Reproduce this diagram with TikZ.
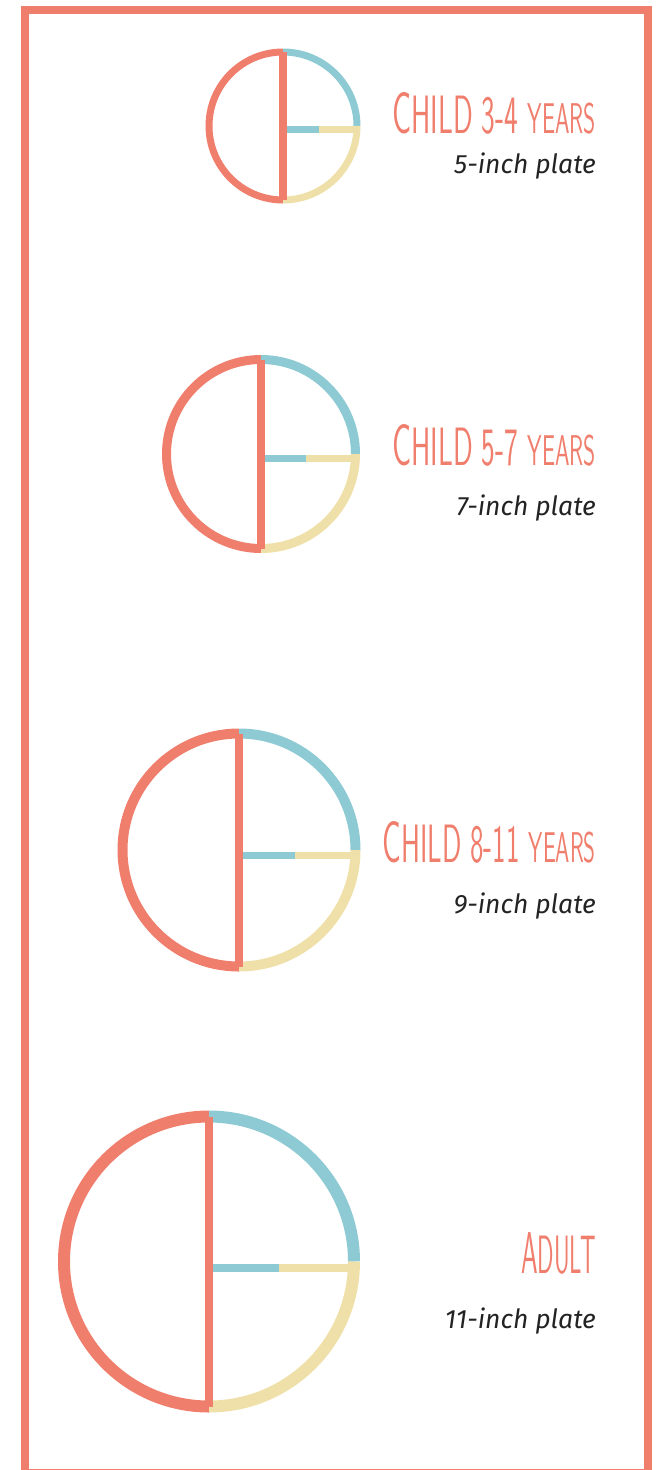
\documentclass[tikz,border=0pt]{standalone}
\usepackage{fontspec}
\newfontfamily\platefont{Fira Sans}
\definecolor{plred}{HTML}{F07E6D}
\definecolor{plblue}{HTML}{8DCAD3}
\definecolor{plyel}{HTML}{EFE0A9}
\definecolor{pltext}{HTML}{232323}
\newcommand{\capC}[1]{{\fontsize{59}{59}\selectfont #1}}
\newcommand{\capS}[1]{{\fontsize{54}{54}\selectfont #1}}
\newcommand{\capY}[1]{{\fontsize{43}{43}\selectfont #1}}
\newcommand{\ttlbox}[2]{\scalebox{#1}[1]{\sffamily #2}}

\begin{document}
\begin{tikzpicture}[x=1pt, y=-1pt,
  ttl/.style={anchor=base east, inner sep=0pt, text=plred},
  sub/.style={anchor=base east, inner sep=0pt, text=pltext, font=\platefont\itshape\fontsize{26.5}{26.5}\selectfont}]
\useasboundingbox (0,0) rectangle (656,1470);
\draw[plred, line width=8pt] (25,10) rectangle (648,1473);
% plates: centre, radius, rim width, height of the split bar
\foreach \cx/\cy/\r/\w/\hy in {283/126/74/7/129.5, 261/454/94.5/9/458.5, 239/850/116.5/10/855.5, 209/1261.5/145/12/1268}{
  \draw[plred, line width=\w pt] (\cx,\cy+\r) arc[start angle=90, end angle=270, radius=\r];
  \draw[plblue, line width=\w pt] (\cx,\cy-\r) arc[start angle=-90, end angle=0, radius=\r];
  \draw[plyel, line width=\w pt] (\cx+\r,\cy) arc[start angle=0, end angle=90, radius=\r];
  \draw[plred, line width=8pt] (\cx,\cy-\r) -- (\cx,\cy+\r);
  \draw[plblue, line width=7.5pt] (\cx+4,\hy) -- (\cx+0.48*\r,\hy);
  \draw[plyel, line width=7.5pt] (\cx+0.48*\r,\hy) -- (\cx+\r-\w/2,\hy);
}
% labels
\foreach \n/\ty/\sy/\sc/\ttl/\sub in {
  1/133/173/0.54/{\capC{C}\capS{HILD 3-4 }\capY{YEARS}}/5-inch plate,
  2/465/515/0.54/{\capC{C}\capS{HILD 5-7 }\capY{YEARS}}/7-inch plate,
  3/862/913/0.53/{\capC{C}\capS{HILD 8-11 }\capY{YEARS}}/9-inch plate,
  4/1273/1328/0.45/{\capC{A}\capS{DULT}}/11-inch plate}{
  \node[ttl] (title\n) at (596,\ty) {\ttlbox{\sc}{\ttl}};
  \node[sub] (size\n) at (596,\sy) {\sub};
}
\end{tikzpicture}
\end{document}
